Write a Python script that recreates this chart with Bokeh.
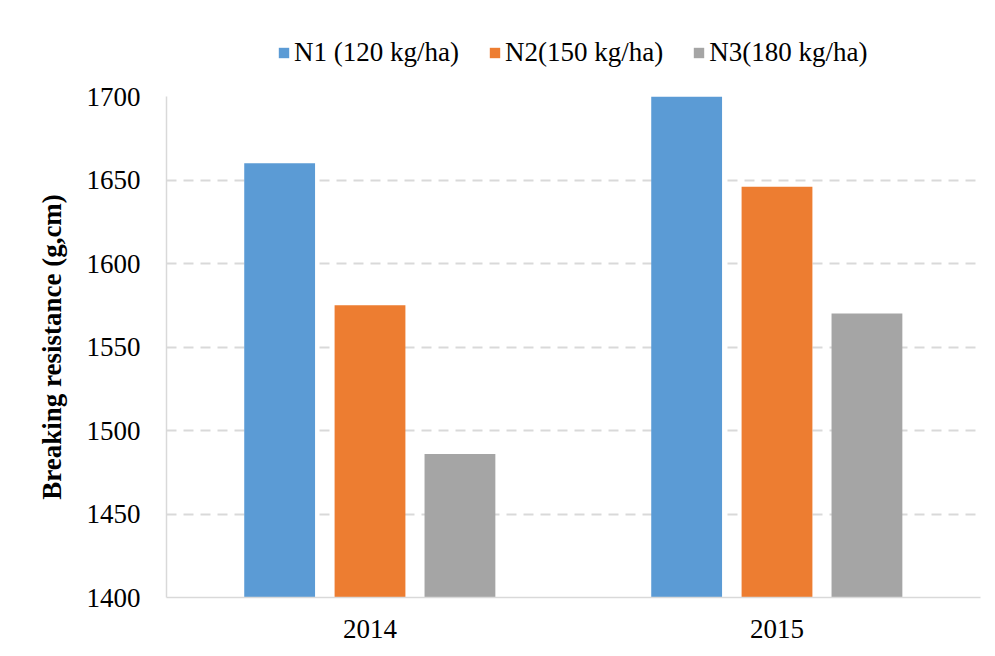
from bokeh.plotting import figure
from bokeh.models import ColumnDataSource, Legend, LegendItem, FixedTicker, Range1d
from bokeh.layouts import column
from bokeh.transform import dodge
from bokeh.embed import file_html
from bokeh.resources import INLINE

years = ["2014", "2015"]
series_names = ["N1 (120 kg/ha)", "N2(150 kg/ha)", "N3(180 kg/ha)"]
n1 = [1660, 1700]
n2 = [1575, 1646]
n3 = [1486, 1570]
colors = ["#5B9BD5", "#ED7D31", "#A5A5A5"]
y_ticks = [1400, 1450, 1500, 1550, 1600, 1650, 1700]

src = ColumnDataSource(dict(year=years, n1=n1, n2=n2, n3=n3))

FONT = "Liberation Serif"

p = figure(x_range=years, y_range=Range1d(1400, 1700), width=987, height=578,
           output_backend="svg", toolbar_location=None,
           min_border_left=166, min_border_right=7, min_border_top=26, min_border_bottom=51)
p.x_range.range_padding = 0

offsets = [-0.222, 0.0, 0.221]
renderers = []
for key, off, col in zip(["n1", "n2", "n3"], offsets, colors):
    r = p.vbar(x=dodge("year", off, range=p.x_range), top=key, bottom=1400, width=0.174,
               source=src, fill_color=col, line_color=None)
    renderers.append(r)

p.outline_line_color = None
p.xgrid.grid_line_color = None
p.ygrid.grid_line_color = "#D9D9D9"
p.ygrid.grid_line_width = 2
p.ygrid.grid_line_dash = "10 7"
p.yaxis.ticker = FixedTicker(ticks=y_ticks)

for ax in (p.xaxis[0], p.yaxis[0]):
    ax.axis_line_color = "#D9D9D9"
    ax.axis_line_width = 1.5
    ax.major_tick_line_color = None
    ax.minor_tick_line_color = None
    ax.major_label_text_font = FONT
    ax.major_label_text_font_size = "27px"
    ax.major_label_text_color = "#000000"

p.yaxis.major_label_standoff = 20
p.xaxis.major_label_standoff = 16
p.yaxis.axis_label = "Breaking resistance (g,cm)"
p.yaxis.axis_label_text_font = FONT
p.yaxis.axis_label_text_font_size = "27px"
p.yaxis.axis_label_text_font_style = "bold"
p.yaxis.axis_label_text_color = "#000000"
p.yaxis.axis_label_standoff = 17

# legend strip above the chart: zero-size bars so only the legend shows
lg = figure(width=987, height=70, x_range=years, y_range=Range1d(0, 1),
            output_backend="svg", toolbar_location=None,
            min_border_left=0, min_border_right=0, min_border_top=0, min_border_bottom=0)
lg.axis.visible = False
lg.grid.visible = False
lg.outline_line_color = None
lg_rs = [lg.vbar(x="year", top=key, bottom=key, width=0, source=src,
                 fill_color=c, line_color=None) for key, c in zip(["n1", "n2", "n3"], colors)]
legend = Legend(items=[LegendItem(label=n, renderers=[r]) for n, r in zip(series_names, lg_rs)],
                orientation="horizontal", location=(111, 2),
                label_text_font=FONT, label_text_font_size="27px", label_text_color="#000000",
                glyph_width=13, glyph_height=13, label_standoff=4, spacing=29,
                border_line_color=None, background_fill_alpha=0, padding=0, margin=0)
lg.add_layout(legend, "center")

layout = column(lg, p, spacing=0)
open("out.html", "w").write(file_html(layout, INLINE))
